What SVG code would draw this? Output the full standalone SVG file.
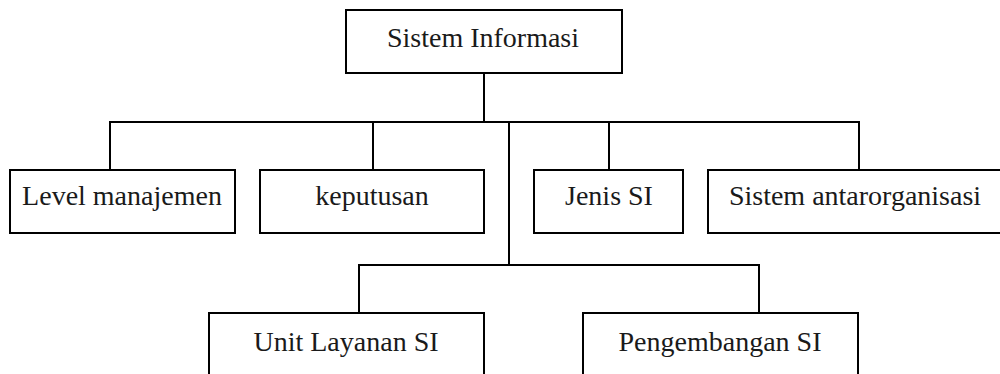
<svg xmlns="http://www.w3.org/2000/svg" width="1000" height="374" viewBox="0 0 1000 374">
  <style>
    .box { fill: #ffffff; stroke: #000000; stroke-width: 2; }
    .lbl { font-family: 'Liberation Serif', 'DejaVu Serif', serif; font-size: 28px; fill: #1a1a1a; text-anchor: middle; }
    .wire { fill: none; stroke: #000000; stroke-width: 2; }
  </style>
  <rect width="1000" height="374" fill="#ffffff"/>

  <!-- connectors -->
  <g id="connectors">
    <path class="wire" d="M484 73 V122"/>
    <path class="wire" d="M110 170 V122 H859 V170"/>
    <path class="wire" d="M373 122 V170"/>
    <path class="wire" d="M609 122 V170"/>
    <path class="wire" d="M509 122 V265"/>
    <path class="wire" d="M359 313 V265 H759 V313"/>
  </g>

  <!-- root -->
  <g id="sistem-informasi">
    <rect class="box" x="346" y="10" width="276" height="63"/>
    <text class="lbl" x="483" y="47">Sistem Informasi</text>
  </g>

  <!-- second level -->
  <g id="level-manajemen">
    <rect class="box" x="10" y="170" width="225" height="63"/>
    <text class="lbl" x="122" y="205">Level manajemen</text>
  </g>
  <g id="keputusan">
    <rect class="box" x="260" y="170" width="224" height="63"/>
    <text class="lbl" x="372" y="205">keputusan</text>
  </g>
  <g id="jenis-si">
    <rect class="box" x="534" y="170" width="149" height="63"/>
    <text class="lbl" x="609" y="205">Jenis SI</text>
  </g>
  <g id="sistem-antarorganisasi">
    <rect class="box" x="708" y="170" width="294" height="63"/>
    <text class="lbl" x="855" y="205">Sistem antarorganisasi</text>
  </g>

  <!-- third level -->
  <g id="unit-layanan-si">
    <rect class="box" x="209" y="313" width="275" height="80"/>
    <text class="lbl" x="346" y="351">Unit Layanan SI</text>
  </g>
  <g id="pengembangan-si">
    <rect class="box" x="583" y="313" width="275" height="80"/>
    <text class="lbl" x="720" y="351">Pengembangan SI</text>
  </g>
</svg>
